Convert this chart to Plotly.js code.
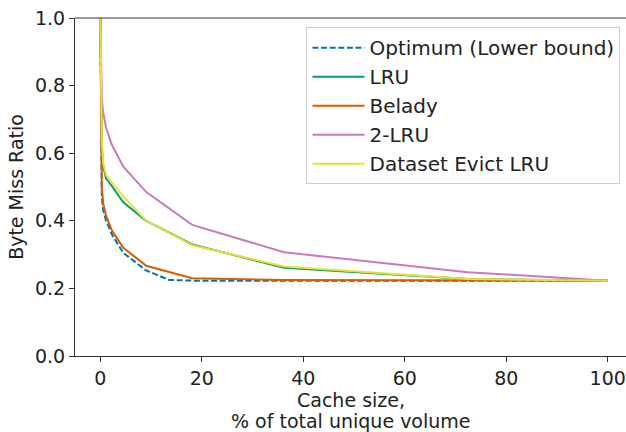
<!DOCTYPE html>
<html>
<head>
<meta charset="utf-8">
<script src="https://cdn.plot.ly/plotly-3.0.1.min.js"></script>
<style>html,body{margin:0;padding:0;background:#fff;overflow:hidden}</style>
</head>
<body>
<div id="chart" style="width:626px;height:432px"></div>
<script>
// Cache size (% of total unique volume)
const cacheSize = [0, 0.14, 0.28, 0.57, 1.13, 2.26, 4.52, 9.05, 18.1, 36.2, 72.4, 100];
const cacheSizeOpt = [0, 0.14, 0.28, 0.57, 1.13, 2.26, 4.52, 9.05, 13.6, 18.1, 36.2, 72.4, 100];

const optimum = [1.0, 0.55, 0.47, 0.43, 0.40, 0.36, 0.305, 0.253, 0.225, 0.223, 0.223, 0.223, 0.223];
const lru     = [1.0, 0.70, 0.62, 0.56, 0.525, 0.503, 0.455, 0.400, 0.330, 0.261, 0.228, 0.223];
const belady  = [1.0, 0.60, 0.50, 0.45, 0.415, 0.372, 0.320, 0.267, 0.230, 0.225, 0.223, 0.223];
const twoLru  = [1.0, 0.80, 0.76, 0.72, 0.675, 0.625, 0.560, 0.485, 0.388, 0.307, 0.248, 0.223];
const dsEvict = [1.0, 0.72, 0.64, 0.57, 0.535, 0.513, 0.472, 0.400, 0.328, 0.265, 0.228, 0.223];

const names = ["Optimum (Lower bound)", "LRU", "Belady", "2-LRU", "Dataset Evict LRU"];
const colors = ["#0173b2", "#029e73", "#d55e00", "#cc78bc", "#ece133"];
const xTitleLines = ["Cache size,", "% of total unique volume"];

const series = [
  {x: cacheSizeOpt, y: optimum, dash: "6px,2.6px"},
  {x: cacheSize, y: lru, dash: "solid"},
  {x: cacheSize, y: belady, dash: "solid"},
  {x: cacheSize, y: twoLru, dash: "solid"},
  {x: cacheSize, y: dsEvict, dash: "solid"}
];

const traces = series.map((s, i) => ({
  x: s.x, y: s.y, name: names[i], type: "scatter", mode: "lines",
  line: {color: colors[i], width: 2, dash: s.dash}
}));

const font = {family: "DejaVu Sans, sans-serif", size: 19, color: "#222"};

const layout = {
  width: 626, height: 432,
  margin: {l: 75, r: 0, t: 18, b: 75.5, pad: 0},
  paper_bgcolor: "#fff", plot_bgcolor: "#fff",
  font: font,
  showlegend: true,
  legend: {
    x: 0.99, y: 0.973, xanchor: "right", yanchor: "top",
    bgcolor: "rgba(255,255,255,0.8)", bordercolor: "#cccccc", borderwidth: 1,
    font: {family: "DejaVu Sans, sans-serif", size: 20, color: "#222"},
    itemwidth: 52,
    tracegroupgap: 0
  },
  xaxis: {
    range: [-5, 103.6], showgrid: false, zeroline: false,
    showline: true, linecolor: "#333", linewidth: 1,
    ticks: "outside", ticklen: 5, tickcolor: "#333",
    tickvals: [0, 20, 40, 60, 80, 100],
    tickfont: font
  },
  yaxis: {
    range: [0, 1], showgrid: false, zeroline: false,
    showline: true, linecolor: "#333", linewidth: 1,
    ticks: "outside", ticklen: 5, tickcolor: "#333",
    tickvals: [0, 0.2, 0.4, 0.6, 0.8, 1.0],
    tickformat: ".1f",
    tickfont: font,
    title: {text: "Byte Miss Ratio", font: font, standoff: 6}
  },
  annotations: [
    {text: xTitleLines[0], xref: "paper", yref: "paper", x: 0.5, y: -0.1300,
     xanchor: "center", yanchor: "middle", showarrow: false, font: font},
    {text: xTitleLines[1], xref: "paper", yref: "paper", x: 0.5, y: -0.1935,
     xanchor: "center", yanchor: "middle", showarrow: false, font: font}
  ],
  shapes: [{type: "line", xref: "paper", yref: "paper", x0: 0, x1: 1, y0: 1, y1: 1,
            line: {color: "#333", width: 1}}]
};

Plotly.newPlot("chart", traces, layout, {displayModeBar: false, staticPlot: true});
</script>
</body>
</html>
